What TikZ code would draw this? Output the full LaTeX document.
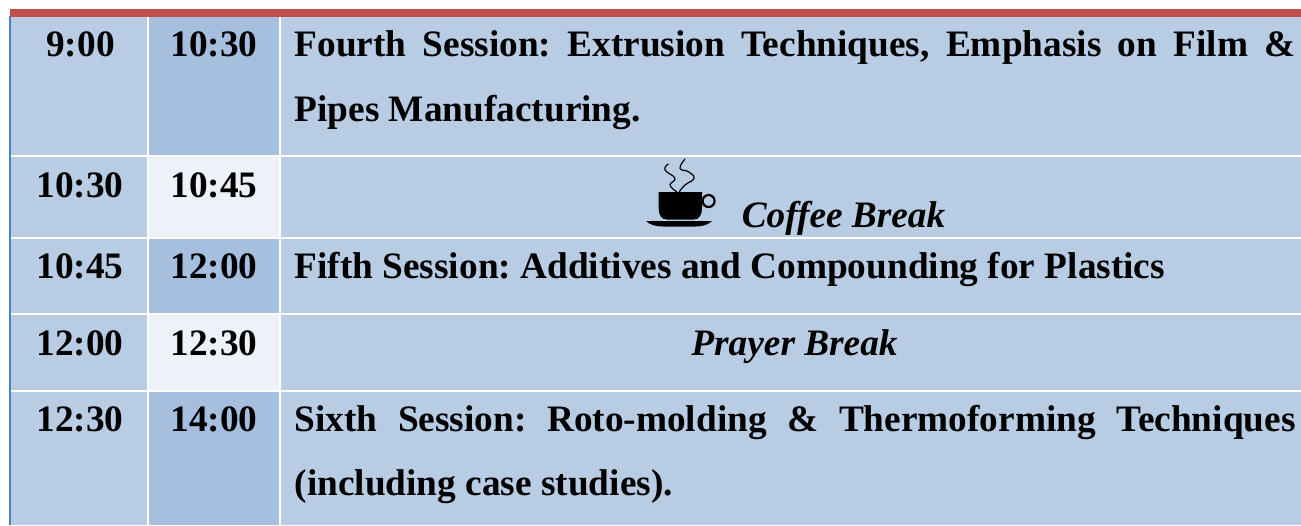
\documentclass[tikz,border=0pt]{standalone}
\usepackage{fontspec}
\setmainfont{Liberation Serif}
\frenchspacing
\definecolor{cellA}{HTML}{B8CCE4}
\definecolor{cellB}{HTML}{A7BFDE}
\definecolor{cellC}{HTML}{EDF2F9}
\definecolor{topbar}{HTML}{C0504D}
\definecolor{leftbar}{HTML}{4F81BD}
\tikzset{
  x=1pt,y=1pt,
  txt/.style={inner sep=0pt,outer sep=0pt,anchor=base west,font=\fontsize{37.3}{37.3}\selectfont\bfseries,text=black},
  time/.style={txt,anchor=base},
  brk/.style={txt,anchor=base,font=\fontsize{37.3}{37.3}\selectfont\bfseries\itshape},
  rule/.style={draw=white,line width=2pt},
  steam/.style={draw=black,line width=1.2pt,line cap=round}
}
\begin{document}
\begin{tikzpicture}
\useasboundingbox (0,0) rectangle (1301,-525);
\fill[white] (0,0) rectangle (1301,-525);
% cell fills
\fill[cellA] (10,-16) rectangle (1301,-525);
\fill[cellB] (148,-16) rectangle (280,-156);
\fill[cellC] (148,-156) rectangle (280,-238);
\fill[cellB] (148,-238) rectangle (280,-314);
\fill[cellC] (148,-314) rectangle (280,-391);
\fill[cellB] (148,-391) rectangle (280,-525);
% rules
\foreach \yy in {156,238,314,391} \draw[rule] (10,-\yy) -- (1301,-\yy);
\foreach \xx in {148,280} \draw[rule] (\xx,-16) -- (\xx,-525);
\fill[leftbar] (9,-16) rectangle (11,-525);
\fill[topbar] (10,-9) rectangle (1301,-16.5);
% times
\node[time] (a1) at (80.5,-56) {9:00};
\node[time] (b1) at (214,-56) {10:30};
\node[time] (a2) at (80,-197) {10:30};
\node[time] (b2) at (214,-197) {10:45};
\node[time] (a3) at (80,-278) {10:45};
\node[time] (b3) at (214,-278) {12:00};
\node[time] (a4) at (80,-355) {12:00};
\node[time] (b4) at (214,-355) {12:30};
\node[time] (a5) at (80,-431) {12:30};
\node[time] (b5) at (214,-431) {14:00};
% sessions
\node[txt] (s1) at (294.6,-56) {\makebox[1001pt][s]{Fourth Session: Extrusion Techniques, Emphasis on Film \&}};
\node[txt] (s1b) at (294.6,-121) {Pipes Manufacturing.};
\node[txt] (s2) at (294.6,-278) {Fifth Session: Additives and Compounding for Plastics};
\node[txt] (s3) at (294.6,-431) {\makebox[1001pt][s]{Sixth Session: Roto-molding \& Thermoforming Techniques}};
\node[txt] (s3b) at (294.6,-495) {(including case studies).};
\node[brk] (c) at (843.5,-227) {Coffee Break};
\node[brk] (p) at (794.5,-355) {Prayer Break};
% coffee cup icon
\fill[black] (658.7,-192) -- (702,-192) -- (702,-208) .. controls (702,-215) and (699,-219.5) .. (694,-219.5) -- (667,-219.5) .. controls (661,-219.5) and (658.7,-215) .. (658.7,-208) -- cycle;
\draw[black,line width=2.2pt] (708.6,-201) circle (6);
\fill[black] (646,-221) -- (712,-221) .. controls (708,-225) and (702,-226.5) .. (695,-226.5) -- (663,-226.5) .. controls (656,-226.5) and (650,-225) .. (646,-221) -- cycle;
\draw[steam] plot[smooth,tension=0.8] coordinates {(676.7,-191.7) (670,-185) (675,-178.3) (665,-170) (668.3,-164)};
\draw[steam] plot[smooth,tension=0.8] coordinates {(679.3,-191.7) (685,-185) (694,-178.3) (688.3,-171.7) (680,-168.3) (685,-159)};
\end{tikzpicture}
\end{document}
